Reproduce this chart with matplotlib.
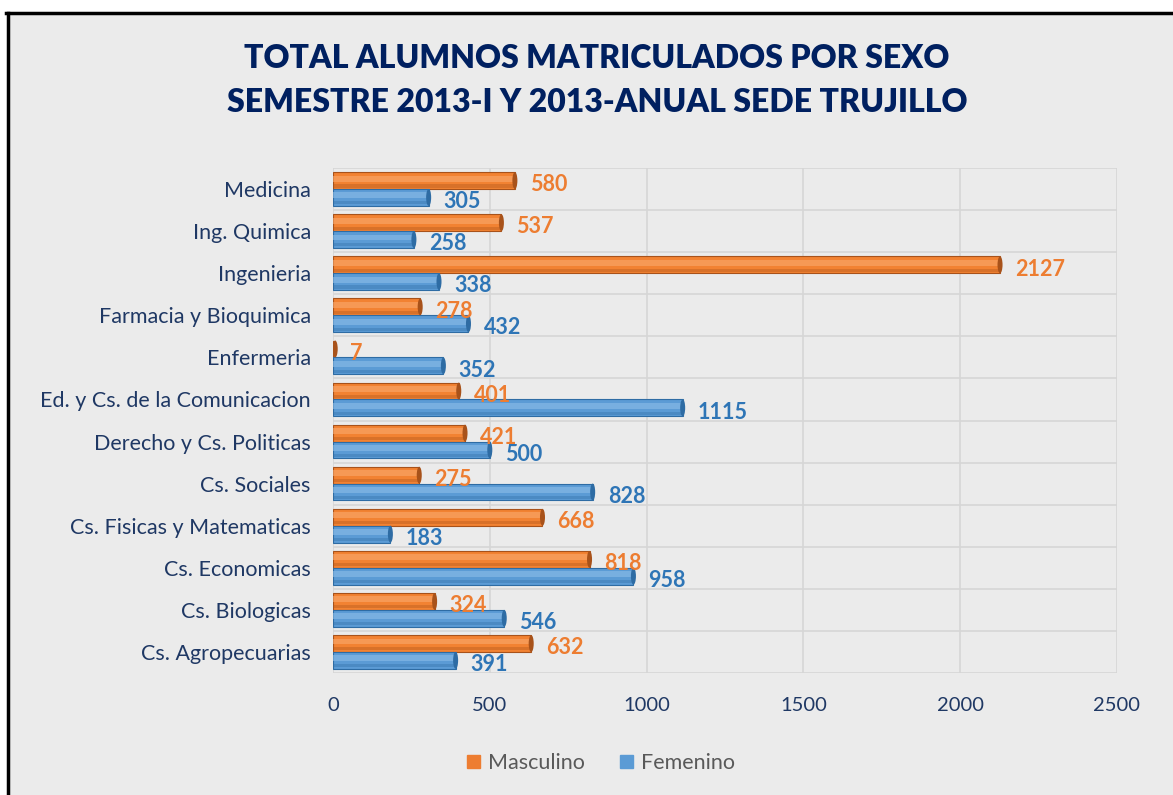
import numpy as np
import matplotlib.pyplot as plt
from matplotlib.patches import Ellipse

carreras = ['Medicina', 'Ing. Quimica', 'Ingenieria', 'Farmacia y Bioquimica',
            'Enfermeria', 'Ed. y Cs. de la Comunicacion', 'Derecho y Cs. Politicas',
            'Cs. Sociales', 'Cs. Fisicas y Matematicas', 'Cs. Economicas',
            'Cs. Biologicas', 'Cs. Agropecuarias']
masculino = [580, 537, 2127, 278, 7, 401, 421, 275, 668, 818, 324, 632]
femenino = [305, 258, 338, 432, 352, 1115, 500, 828, 183, 958, 546, 391]

naranja = '#F28232'
azul = '#5B9BD5'
navy = '#1F3864'
fondo = '#EBEBEB'

plt.rcParams['font.family'] = ['Lato', 'DejaVu Sans']

fig = plt.figure(figsize=(11.73, 7.95), dpi=100, facecolor='white')
# marco gris con borde negro arriba e izquierda
fig.patches.append(plt.Rectangle((7 / 1173, 0), 1.0, 1 - 13 / 795, transform=fig.transFigure,
                                 facecolor=fondo, edgecolor='none', zorder=-10))
fig.add_artist(plt.Line2D([7.5 / 1173, 7.5 / 1173], [0, 1 - 12.5 / 795], color='black', lw=2.5,
                          transform=fig.transFigure))
fig.add_artist(plt.Line2D([6 / 1173, 1], [1 - 12.5 / 795, 1 - 12.5 / 795], color='black', lw=2.5,
                          transform=fig.transFigure))

ax = fig.add_axes([333 / 1173, 1 - 673 / 795, (1117 - 333) / 1173, (673 - 168) / 795])
ax.set_facecolor(fondo)

y = np.arange(len(carreras))
h = 0.4
off = 0.2


def cilindro(ys, vals, color, oscuro, claro):
    ax.barh(ys, vals, height=h, color=color, edgecolor=oscuro, linewidth=0.8, zorder=3)
    ax.barh(ys - h * 0.12, vals, height=h * 0.35, color=claro, edgecolor='none', alpha=0.6, zorder=4)
    ax.barh(ys + h * 0.32, vals, height=h * 0.18, color=oscuro, edgecolor='none', alpha=0.35, zorder=4)
    for yy, v in zip(ys, vals):
        ax.add_patch(Ellipse((v, yy), 16, h, facecolor=oscuro, edgecolor='none', zorder=5))


cilindro(y - off, masculino, naranja, '#A8521A', '#F9A96E')
cilindro(y + off, femenino, azul, '#2E6CA4', '#8DBDE8')

for yy, v in zip(y - off, masculino):
    ax.text(v + 48, yy + 0.1, str(v), color='#ED7D31', fontsize=15.5, fontweight='bold',
            va='center', ha='left', zorder=6)
for yy, v in zip(y + off, femenino):
    ax.text(v + 48, yy + 0.1, str(v), color='#2E75B6', fontsize=15.5, fontweight='bold',
            va='center', ha='left', zorder=6)

ax.set_xlim(0, 2500)
ax.set_ylim(len(carreras) - 0.5, -0.5)
ax.set_xticks(np.arange(0, 2501, 500))
ax.set_yticks(y)
ax.set_yticklabels(carreras)
ax.set_yticks(np.arange(-0.5, len(carreras), 1), minor=True)
ax.grid(axis='x', which='major', color='#D6D6D6', lw=1.2, zorder=0)
ax.grid(axis='y', which='minor', color='#D6D6D6', lw=1.2, zorder=0)
ax.tick_params(axis='both', which='both', length=0, labelcolor=navy)
ax.tick_params(axis='y', pad=16, labelsize=15.5)
ax.tick_params(axis='x', pad=17, labelsize=14.5)
for s in ax.spines.values():
    s.set_visible(False)

fig.text(597 / 1173, 1 - 58 / 795, 'TOTAL ALUMNOS MATRICULADOS POR SEXO', ha='center', va='center',
         fontsize=23, fontweight='heavy', color='#002060')
fig.text(597 / 1173, 1 - 103 / 795, 'SEMESTRE 2013-I Y 2013-ANUAL SEDE TRUJILLO', ha='center',
         va='center', fontsize=23, fontweight='heavy', color='#002060')

hs = [plt.Rectangle((0, 0), 1, 1, color='#ED7D31'), plt.Rectangle((0, 0), 1, 1, color=azul)]
fig.legend(hs, ['Masculino', 'Femenino'], loc='center', bbox_to_anchor=(601 / 1173, 1 - 763 / 795),
           ncol=2, frameon=False, fontsize=15.5, labelcolor='#595959', handlelength=0.6,
           handleheight=0.6, columnspacing=1.6, handletextpad=0.4)

fig.savefig('out.png', dpi=100, facecolor='white')
